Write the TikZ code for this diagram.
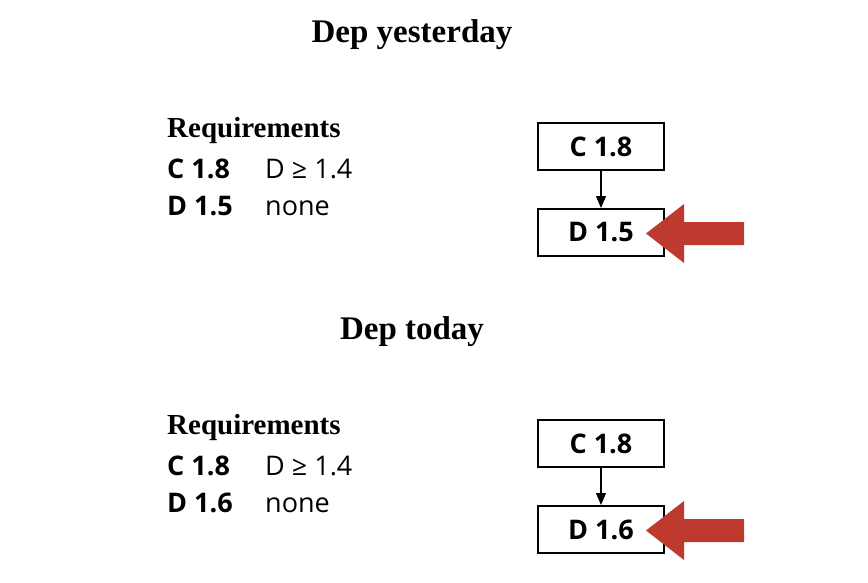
\documentclass[tikz,border=0pt]{standalone}
\usepackage{fontspec}
\setmainfont{Liberation Serif}
\setsansfont{Open Sans}
\usetikzlibrary{arrows.meta, positioning}
\definecolor{ArrowRed}{HTML}{BE3A2E}
\tikzset{
    title/.style={font=\fontsize{33}{36}\selectfont\bfseries, anchor=base},
    reqhead/.style={font=\fontsize{29}{32}\selectfont\bfseries, anchor=base west, inner sep=0pt},
    reqname/.style={font=\sffamily\fontsize{27}{30}\selectfont\bfseries, anchor=base west, inner sep=0pt},
    reqtext/.style={font=\sffamily\fontsize{27}{30}\selectfont, anchor=base west, inner sep=0pt},
    verbox/.style={draw, line width=2pt, minimum width=126pt, minimum height=47pt, inner sep=0pt,
        font=\sffamily\fontsize{27}{30}\selectfont\bfseries},
    dep/.style={-{Triangle[length=12pt, width=10pt]}, line width=1.2pt}
}
% red block arrow, tip at the given point
\newcommand{\redpointer}[1]{%
    \fill[ArrowRed] (#1) -- ++(38,-29.5) -- ++(0,18) -- ++(60,0) -- ++(0,23)
        -- ++(-60,0) -- ++(0,18) -- cycle;}
\begin{document}
\begin{tikzpicture}[x=1pt, y=-1pt]
    \useasboundingbox (0,0) rectangle (868,582);

    % Yesterday
    \node[title] (titleA) at (412, 42) {Dep yesterday};
    \node[reqhead] (reqA) at (167, 137) {Requirements};
    \node[reqname] (reqAC) at (167, 178) {C 1.8};
    \node[reqtext] (reqACdep) at (265, 178) {D ≥ 1.4};
    \node[reqname] (reqAD) at (167, 215) {D 1.5};
    \node[reqtext] (reqADdep) at (265, 215) {none};

    % Graph yesterday
    \node[verbox] (boxAC) at (601, 146.5) {C 1.8};
    \node[verbox, below=37pt of boxAC] (boxAD) {D 1.5};
    \draw[dep] (boxAC) -- (boxAD);
    \coordinate (tipA) at ([xshift=-19pt, yshift=-1pt]boxAD.east);
    \redpointer{tipA}

    % Today
    \node[title] (titleB) at (412, 339) {Dep today};
    \node[reqhead] (reqB) at (167, 434) {Requirements};
    \node[reqname] (reqBC) at (167, 475) {C 1.8};
    \node[reqtext] (reqBCdep) at (265, 475) {D ≥ 1.4};
    \node[reqname] (reqBD) at (167, 512) {D 1.6};
    \node[reqtext] (reqBDdep) at (265, 512) {none};

    % Graph today
    \node[verbox] (boxBC) at (601, 443.5) {C 1.8};
    \node[verbox, below=37pt of boxBC] (boxBD) {D 1.6};
    \draw[dep] (boxBC) -- (boxBD);
    \coordinate (tipB) at ([xshift=-19pt, yshift=-1pt]boxBD.east);
    \redpointer{tipB}
\end{tikzpicture}
\end{document}
